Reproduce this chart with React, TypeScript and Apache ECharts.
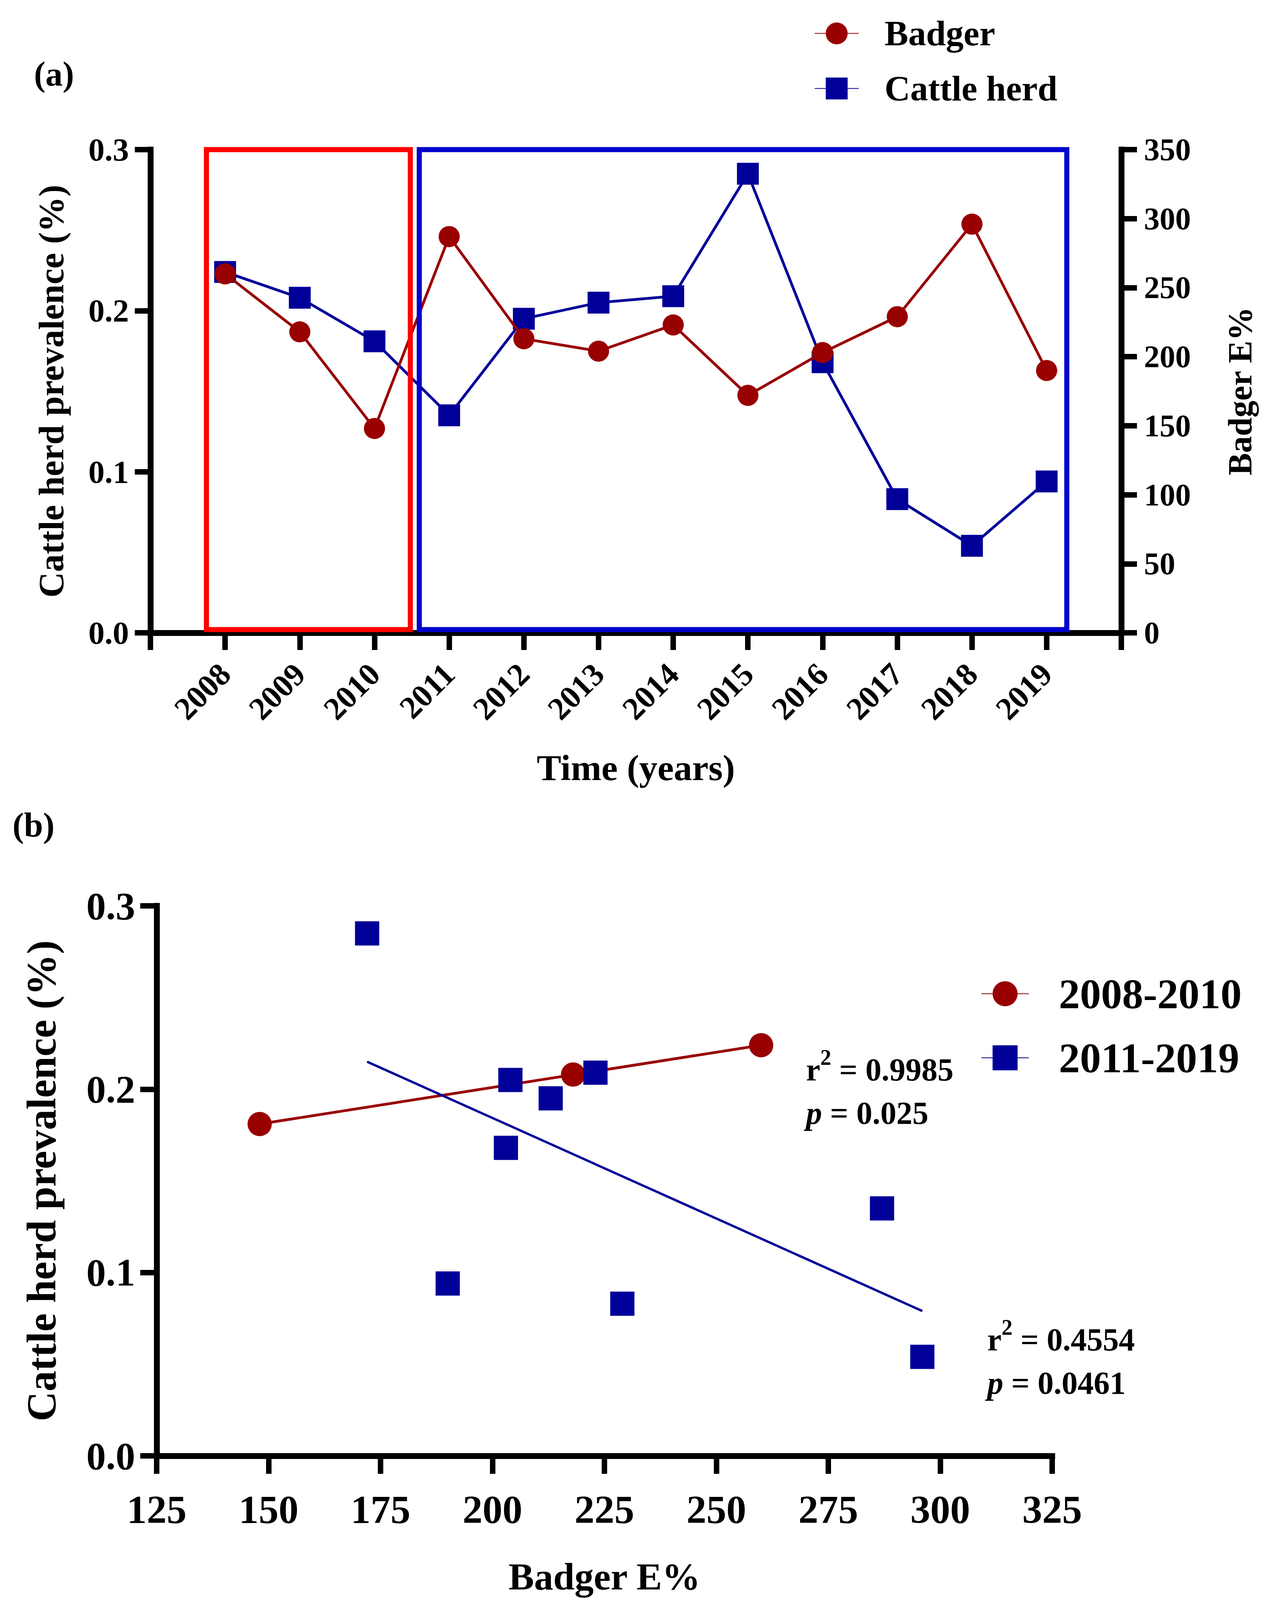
import React, { useEffect, useRef } from "react";
import * as echarts from "echarts";

// ---- data ----
const years = [2008, 2009, 2010, 2011, 2012, 2013, 2014, 2015, 2016, 2017, 2018, 2019];
const cattleHerd = [0.224, 0.208, 0.181, 0.135, 0.195, 0.205, 0.209, 0.285, 0.168, 0.083, 0.054, 0.094];
const badgerE = [260, 218, 148, 287, 213, 204, 223, 172, 203, 229, 296, 190];
const earlyYears = [2008, 2009, 2010];
const lateYears = [2011, 2012, 2013, 2014, 2015, 2016, 2017, 2018, 2019];
const fitEarly = [[148, 0.181], [260, 0.224]];
const fitLate = [[172, 0.215], [296, 0.079]];
const periodBoxRed = [2007.75, 2010.48];
const periodBoxBlue = [2010.6, 2019.27];
const statsEarly = ["0.9985", "0.025"];
const statsLate = ["0.4554", "0.0461"];

const FONT = "'Liberation Serif', 'Times New Roman', serif";
const RED = "#990000";
const BLUE = "#000099";

function axisBase(fs: number, tickLen: number) {
  return {
    axisLine: { show: true, onZero: false, lineStyle: { color: "#000", width: 15, cap: "square" } },
    axisTick: { show: true, length: tickLen, lineStyle: { color: "#000", width: 14 } },
    splitLine: { show: false },
    axisLabel: { color: "#000", fontFamily: FONT, fontWeight: "bold", fontSize: fs },
    nameTextStyle: { color: "#000", fontFamily: FONT, fontWeight: "bold" },
  };
}

const richStats = {
  b: { fontFamily: FONT, fontWeight: "bold", fontSize: 82, fill: "#000" },
  s: { fontFamily: FONT, fontWeight: "bold", fontSize: 56, fill: "#000", padding: [0, 0, 62, 0] },
  i: { fontFamily: FONT, fontWeight: "bold", fontStyle: "italic", fontSize: 82, fill: "#000" },
};

export default function App() {
  const ref = useRef<HTMLDivElement>(null);
  useEffect(() => {
    document.body.style.margin = "0";
    const chart = echarts.init(ref.current!, null, { renderer: "svg" });
    const pairs = (ys: number[]) =>
      ys.map((y) => {
        const i = years.indexOf(y);
        return [badgerE[i], cattleHerd[i]];
      });

    const xA: any = axisBase(82, 44);
    const yA0: any = axisBase(83, 40);
    const yA1: any = axisBase(80, 40);
    const xB: any = axisBase(102, 46);
    const yB: any = axisBase(100, 42);

    const option: any = {
      animation: false,
      backgroundColor: "#ffffff",
      grid: [
        { left: 385, top: 383, width: 2485, height: 1237 },
        { left: 401, top: 2319, width: 2292, height: 1408 },
      ],
      xAxis: [
        {
          ...xA,
          type: "value",
          gridIndex: 0,
          min: 2007,
          max: 2020,
          interval: 1,
          axisLabel: {
            ...xA.axisLabel,
            rotate: 45,
            margin: 92,
            formatter: (v: number) => (v < 2008 || v > 2019 ? "" : String(v)),
          },
          name: "Time (years)",
          nameLocation: "middle",
          nameGap: 298,
          nameTextStyle: { ...xA.nameTextStyle, fontSize: 94 },
        },
        {
          ...xB,
          type: "value",
          gridIndex: 1,
          min: 125,
          max: 325,
          interval: 25,
          axisLabel: { ...xB.axisLabel, margin: 86 },
          name: "Badger E%",
          nameLocation: "middle",
          nameGap: 260,
          nameTextStyle: { ...xB.nameTextStyle, fontSize: 98 },
        },
      ],
      yAxis: [
        {
          ...yA0,
          type: "value",
          gridIndex: 0,
          position: "left",
          min: 0,
          max: 0.3,
          interval: 0.1,
          axisLabel: { ...yA0.axisLabel, margin: 55, formatter: (v: number) => v.toFixed(1) },
          name: "Cattle herd prevalence (%)",
          nameLocation: "middle",
          nameRotate: 90,
          nameGap: 208,
          nameTextStyle: { ...yA0.nameTextStyle, fontSize: 91 },
        },
        {
          ...yA1,
          type: "value",
          gridIndex: 0,
          position: "right",
          min: 0,
          max: 350,
          interval: 50,
          axisLabel: { ...yA1.axisLabel, margin: 58 },
          name: "Badger E%",
          nameLocation: "middle",
          nameRotate: 90,
          nameGap: 261,
          nameTextStyle: { ...yA1.nameTextStyle, fontSize: 86 },
        },
        {
          ...yB,
          type: "value",
          gridIndex: 1,
          position: "left",
          min: 0,
          max: 0.3,
          interval: 0.1,
          axisLabel: { ...yB.axisLabel, margin: 55, formatter: (v: number) => v.toFixed(1) },
          name: "Cattle herd prevalence (%)",
          nameLocation: "middle",
          nameRotate: 90,
          nameGap: 242,
          nameTextStyle: { ...yB.nameTextStyle, fontSize: 106 },
        },
      ],
      legend: [
        {
          orient: "vertical",
          left: 2084,
          top: 40,
          padding: 0,
          itemWidth: 113,
          itemHeight: 70,
          itemGap: 50,
          data: ["Badger", "Cattle herd"],
          textStyle: { color: "#000", fontFamily: FONT, fontWeight: "bold", fontSize: 91, padding: [0, 0, 0, 61] },
        },
        {
          orient: "vertical",
          left: 2511,
          top: 2490,
          padding: 0,
          itemWidth: 121,
          itemHeight: 80,
          itemGap: 56,
          data: ["2008-2010", "2011-2019"],
          textStyle: { color: "#000", fontFamily: FONT, fontWeight: "bold", fontSize: 108, padding: [0, 0, 0, 72] },
        },
      ],
      series: [
        {
          name: "Cattle herd",
          type: "line",
          xAxisIndex: 0,
          yAxisIndex: 0,
          z: 2,
          data: years.map((y, i) => [y, cattleHerd[i]]),
          symbol: "rect",
          symbolSize: 56,
          itemStyle: { color: BLUE },
          lineStyle: { color: BLUE, width: 7 },
          markArea: {
            silent: true,
            z: 6,
            label: { show: false },
            data: [
              [
                { xAxis: periodBoxRed[0], yAxis: 0.002, itemStyle: { color: "rgba(0,0,0,0)", borderColor: "#ff0000", borderWidth: 13 } },
                { xAxis: periodBoxRed[1], yAxis: 0.301 },
              ],
              [
                { xAxis: periodBoxBlue[0], yAxis: 0.002, itemStyle: { color: "rgba(0,0,0,0)", borderColor: "#0000cc", borderWidth: 13 } },
                { xAxis: periodBoxBlue[1], yAxis: 0.301 },
              ],
            ],
          },
        },
        {
          name: "Badger",
          type: "line",
          xAxisIndex: 0,
          yAxisIndex: 1,
          z: 3,
          data: years.map((y, i) => [y, badgerE[i]]),
          symbol: "circle",
          symbolSize: 54,
          itemStyle: { color: RED },
          lineStyle: { color: RED, width: 7 },
        },
        {
          name: "2008-2010",
          type: "line",
          xAxisIndex: 1,
          yAxisIndex: 2,
          data: fitEarly,
          showSymbol: false,
          symbol: "circle",
          itemStyle: { color: RED },
          lineStyle: { color: RED, width: 7 },
        },
        {
          name: "2011-2019",
          type: "line",
          xAxisIndex: 1,
          yAxisIndex: 2,
          data: fitLate,
          showSymbol: false,
          symbol: "rect",
          itemStyle: { color: BLUE },
          lineStyle: { color: BLUE, width: 6 },
        },
        {
          name: "2008-2010",
          type: "scatter",
          xAxisIndex: 1,
          yAxisIndex: 2,
          z: 4,
          data: pairs(earlyYears),
          symbol: "circle",
          symbolSize: 62,
          itemStyle: { color: RED, opacity: 1 },
        },
        {
          name: "2011-2019",
          type: "scatter",
          xAxisIndex: 1,
          yAxisIndex: 2,
          z: 4,
          data: pairs(lateYears),
          symbol: "rect",
          symbolSize: 62,
          itemStyle: { color: BLUE, opacity: 1 },
        },
      ],
      graphic: [
        {
          type: "text",
          left: 87,
          top: 145,
          style: { text: "(a)", fontFamily: FONT, fontWeight: "bold", fontSize: 88, fill: "#000" },
        },
        {
          type: "text",
          left: 32,
          top: 2068,
          style: { text: "(b)", fontFamily: FONT, fontWeight: "bold", fontSize: 88, fill: "#000" },
        },
        {
          type: "text",
          x: 2063,
          y: 2738,
          style: { text: "{b|r}{s|2}{b| = " + statsEarly[0] + "}", verticalAlign: "middle", rich: richStats },
        },
        {
          type: "text",
          x: 2063,
          y: 2849,
          style: { text: "{i|p}{b| = " + statsEarly[1] + "}", verticalAlign: "middle", rich: richStats },
        },
        {
          type: "text",
          x: 2527,
          y: 3429,
          style: { text: "{b|r}{s|2}{b| = " + statsLate[0] + "}", verticalAlign: "middle", rich: richStats },
        },
        {
          type: "text",
          x: 2527,
          y: 3540,
          style: { text: "{i|p}{b| = " + statsLate[1] + "}", verticalAlign: "middle", rich: richStats },
        },
      ],
    };
    chart.setOption(option);
    return () => chart.dispose();
  }, []);
  return <div ref={ref} style={{ width: 3271, height: 4152 }} />;
}
